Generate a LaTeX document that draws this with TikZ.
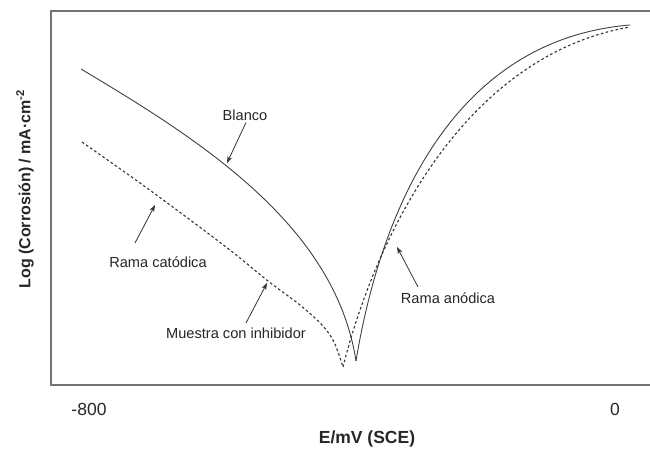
\documentclass[tikz,border=0pt]{standalone}
\usepackage{fontspec}
\setmainfont{Liberation Sans}
\usetikzlibrary{arrows.meta}
\begin{document}
\begin{tikzpicture}[x=1pt,y=-1pt,
  frame/.style={draw=black!55,line width=1.4pt},
  blanco/.style={draw=black!75,line width=0.9pt},
  inhib/.style={draw=black!80,line width=1.1pt,dash pattern=on 2.6pt off 2.4pt},
  lbl/.style={font=\fontsize{14.6}{16}\selectfont,inner sep=0pt,text=black!85},
  axlbl/.style={font=\fontsize{17.5}{20}\selectfont,inner sep=0pt,text=black!85},
  ptr/.style={draw=black!80,line width=0.8pt,-{Stealth[length=7pt,width=5pt]}}]
\useasboundingbox (0,0) rectangle (650,450);
% frame
\draw[frame] (650,11) -- (51,11) -- (51,385) -- (650,385);
% Blanco (solid) curve
\draw[blanco] (81,69) .. controls (200,140) and (335,225) .. (356,361);
\draw[blanco] (356,361) .. controls (380,215) and (450,40) .. (630,25);
% inhibitor (dashed) curve
\draw[inhib] plot[smooth,tension=0.55] coordinates {(82,142) (140,183) (197,225) (235,254) (268,281) (300,305) (322,325) (334,342) (343,367)};
\draw[inhib] (343,367) .. controls (378,228) and (468,55) .. (630,27);
% named targets
\coordinate (tBl) at (227,163);
\coordinate (tRc) at (155,205);
\coordinate (tMu) at (267,283);
\coordinate (tRa) at (397,247);
% labels
\node[lbl] (nBl) at (245,115) {Blanco};
\node[lbl] (nRc) at (158,262) {Rama catódica};
\node[lbl] (nMu) at (236,333) {Muestra con inhibidor};
\node[lbl] (nRa) at (448,298) {Rama anódica};
\draw[ptr] (nBl.south) ++(1,2) -- (tBl);
\draw[ptr] (135,243) -- (tRc);
\draw[ptr] (246,323) -- (tMu);
\draw[ptr] (418,287) -- (tRa);
% axis labels
\node[axlbl] (xmin) at (89,409) {-800};
\node[axlbl] (xmax) at (615,409) {0};
\node[axlbl,font=\fontsize{17.5}{20}\selectfont\bfseries] (xlab) at (367,439) {E/mV (SCE)};
\node[inner sep=0pt,rotate=90,font=\fontsize{16}{18}\selectfont\bfseries,text=black!85] (ylab) at (25,189) {Log (Corrosión) / mA·cm\textsuperscript{-2}};
\end{tikzpicture}
\end{document}
